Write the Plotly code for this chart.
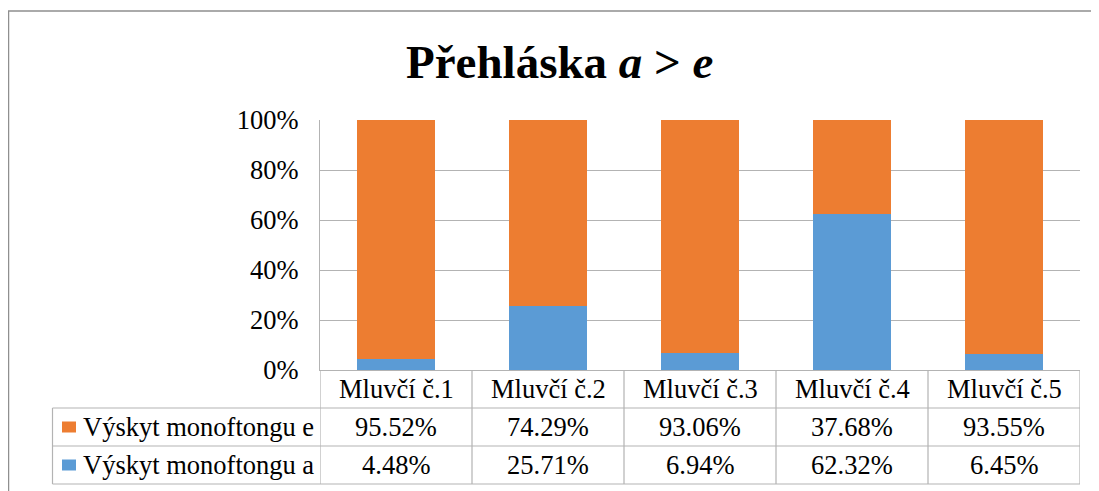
import plotly.graph_objects as go

categories = ["Mluvčí č.1", "Mluvčí č.2", "Mluvčí č.3", "Mluvčí č.4", "Mluvčí č.5"]
series_e_name = "Výskyt monoftongu e"
series_a_name = "Výskyt monoftongu a"
values_e = [95.52, 74.29, 93.06, 37.68, 93.55]
values_a = [4.48, 25.71, 6.94, 62.32, 6.45]
y_ticks = [0, 0.2, 0.4, 0.6, 0.8, 1.0]
title_text = "<b>Přehláska <i>a</i> > <i>e</i></b>"

ORANGE = "#ED7D31"
BLUE = "#5B9BD5"
GRID = "#b3b3b3"
FONT = "Liberation Serif, Times New Roman, serif"

OFF = 8  # page body margin
W, H = 1099 - OFF, 491 - OFF
# plot area in screen pixels
SL, SR, ST, SB = 320, 1080, 120, 370
L, R, T, B = SL - OFF, SR - OFF, ST - OFF, SB - OFF


def px_x(sx):
    return (sx - SL) / (SR - SL)


def px_y(sy):
    return (SB - sy) / (SB - ST)


fig = go.Figure()
fig.add_trace(go.Bar(x=categories, y=[v / 100 for v in values_a], name=series_a_name,
                     marker=dict(color=BLUE, line=dict(width=0))))
fig.add_trace(go.Bar(x=categories, y=[v / 100 for v in values_e], name=series_e_name,
                     marker=dict(color=ORANGE, line=dict(width=0))))

shapes = []
annotations = []

# outer chart border
shapes.append(dict(type="rect", xref="paper", yref="paper",
                   x0=px_x(8.5), x1=px_x(1110), y0=px_y(500), y1=px_y(11),
                   line=dict(color="#8f8f8f", width=1.5), layer="below"))

# data table
row_tops = [370, 408, 446, 484]
for i in range(len(categories) + 1):
    shapes.append(dict(type="line", xref="x", yref="paper",
                       x0=i - 0.5, x1=i - 0.5, y0=px_y(row_tops[0]), y1=px_y(row_tops[-1]),
                       line=dict(color=GRID, width=1.2)))
shapes.append(dict(type="line", xref="paper", yref="paper",
                   x0=px_x(52.5), x1=px_x(52.5), y0=px_y(row_tops[1]), y1=px_y(row_tops[-1]),
                   line=dict(color=GRID, width=1.2)))
for ry in row_tops[1:]:
    shapes.append(dict(type="line", xref="paper", yref="paper",
                       x0=px_x(52.5), x1=1, y0=px_y(ry), y1=px_y(ry),
                       line=dict(color=GRID, width=1.2)))

cell_font = dict(family=FONT, size=26.5, color="black")
for c in categories:
    annotations.append(dict(x=c, y=px_y((row_tops[0] + row_tops[1]) / 2), xref="x", yref="paper",
                            text=c, showarrow=False, font=cell_font,
                            xanchor="center", yanchor="middle"))
rows = [(series_e_name, values_e, ORANGE), (series_a_name, values_a, BLUE)]
for r, (name, vals, col) in enumerate(rows):
    yc = (row_tops[r + 1] + row_tops[r + 2]) / 2
    for c, v in zip(categories, vals):
        annotations.append(dict(x=c, y=px_y(yc), xref="x", yref="paper",
                                text=f"{v:.2f}%", showarrow=False, font=cell_font,
                                xanchor="center", yanchor="middle"))
    annotations.append(dict(x=px_x(81), y=px_y(yc), xref="paper", yref="paper",
                            text=name, showarrow=False, font=cell_font,
                            xanchor="left", yanchor="middle"))
    shapes.append(dict(type="rect", xref="paper", yref="paper",
                       x0=px_x(62), x1=px_x(76), y0=px_y(yc + 5.5), y1=px_y(yc - 5.5),
                       fillcolor=col, line=dict(width=0)))

# title
annotations.append(dict(x=px_x(559), y=px_y(62), xref="paper", yref="paper",
                        text=title_text, showarrow=False,
                        font=dict(family=FONT, size=47, color="black"),
                        xanchor="center", yanchor="middle"))

fig.update_layout(
    width=W, height=H,
    margin=dict(l=L, r=W - R, t=T, b=H - B, pad=0),
    paper_bgcolor="white", plot_bgcolor="white",
    barmode="stack", bargap=0.49,
    showlegend=False,
    shapes=shapes, annotations=annotations,
    font=dict(family=FONT, size=26.5, color="black"),
)
fig.update_xaxes(type="category", range=[-0.5, len(categories) - 0.5],
                 showticklabels=False, showgrid=False, zeroline=False,
                 showline=True, linecolor=GRID, linewidth=1.2, ticks="")
fig.update_yaxes(range=[0, 1], tickvals=y_ticks, tickformat=".0%",
                 showgrid=True, gridcolor=GRID, gridwidth=1.2, zeroline=False,
                 showline=True, linecolor=GRID, linewidth=1.2, ticks="",
                 ticklabelstandoff=15,
                 tickfont=dict(family=FONT, size=26.5, color="black"))

fig.write_html("out.html")
